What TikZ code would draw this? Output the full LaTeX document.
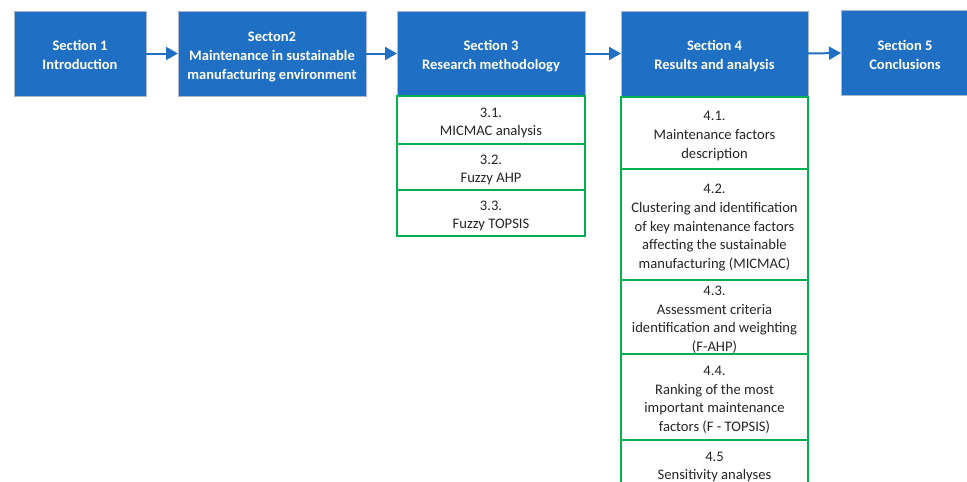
\documentclass[tikz,border=0pt]{standalone}
\usepackage{fontspec}
\setmainfont{Carlito}
\usetikzlibrary{arrows.meta}
\definecolor{secblue}{HTML}{1F70C4}
\definecolor{secedge}{HTML}{A9B8CC}
\definecolor{subgreen}{HTML}{00B050}
\definecolor{subtext}{HTML}{262626}
% strut opening the first line of every box, so all texts sit alike
\newcommand{\firstrow}{\rule{0pt}{17pt}}
\begin{document}
\begin{tikzpicture}[x=1pt,y=-1pt,
  evenlines/.style={execute at end node={\rule[-4pt]{0pt}{4pt}}},
  sec/.style={draw=secedge, fill=secblue, text=white,
    font=\fontsize{14.5}{19}\selectfont\bfseries, align=center,
    inner xsep=0pt, inner ysep=-8pt, outer sep=0pt, line width=0.8pt, evenlines},
  sub/.style={draw=subgreen, fill=white, text=subtext,
    font=\fontsize{14.6}{18.6}\selectfont, align=center,
    inner xsep=0pt, inner ysep=-8pt, outer sep=0pt, line width=1.1pt, evenlines},
  flow/.style={draw=secblue, line width=2pt,
    -{Triangle[length=12pt,width=13pt]}}]
\useasboundingbox (0,0) rectangle (967,482);
\clip (0,0) rectangle (967,482);

% main sections
\node[sec, minimum width=132, minimum height=85] (s1) at (80,53.5)
  {\firstrow Section 1\\Introduction};
\node[sec, minimum width=188, minimum height=85] (s2) at (272,53.5)
  {\firstrow Secton2\\Maintenance in sustainable\\manufacturing environment};
\node[sec, minimum width=188, minimum height=85] (s3) at (491,53.5)
  {\firstrow Section 3\\Research methodology};
\node[sec, minimum width=187, minimum height=85] (s4) at (714.5,53.5)
  {\firstrow Section 4\\Results and analysis};
\node[sec, minimum width=128, minimum height=85] (s5) at (905,53)
  {\firstrow Section 5\\Conclusions};

% flow between sections
\draw[flow] (s1.east) -- (s2.west);
\draw[flow] (s2.east) -- (s3.west);
\draw[flow] (s3.east) -- (s4.west);
\draw[flow] (s4.east) -- (s5.west);

% subsections of section 3
\node[sub, minimum width=188, minimum height=48] (a31) at (491,120)
  {\firstrow 3.1.\\MICMAC analysis};
\node[sub, minimum width=188, minimum height=46] (a32) at (491,167)
  {\firstrow 3.2.\\Fuzzy AHP};
\node[sub, minimum width=188, minimum height=46] (a33) at (491,213)
  {\firstrow 3.3.\\Fuzzy TOPSIS};

% subsections of section 4
\node[sub, minimum width=187, minimum height=72] (b41) at (714.5,133)
  {\firstrow 4.1.\\Maintenance factors\\description};
\node[sub, minimum width=187, minimum height=111] (b42) at (714.5,224.5)
  {\firstrow 4.2.\\Clustering and identification\\of key maintenance factors\\affecting the sustainable\\manufacturing (MICMAC)};
\node[sub, minimum width=187, minimum height=74] (b43) at (714.5,317)
  {\firstrow 4.3.\\Assessment criteria\\identification and weighting\\(F-AHP)};
\node[sub, minimum width=187, minimum height=86] (b44) at (714.5,397)
  {\firstrow 4.4.\\Ranking of the most\\important maintenance\\factors (F - TOPSIS)};
\node[sub, minimum width=187, minimum height=48] (b45) at (714.5,464)
  {\firstrow 4.5\\Sensitivity analyses};
\end{tikzpicture}
\end{document}
